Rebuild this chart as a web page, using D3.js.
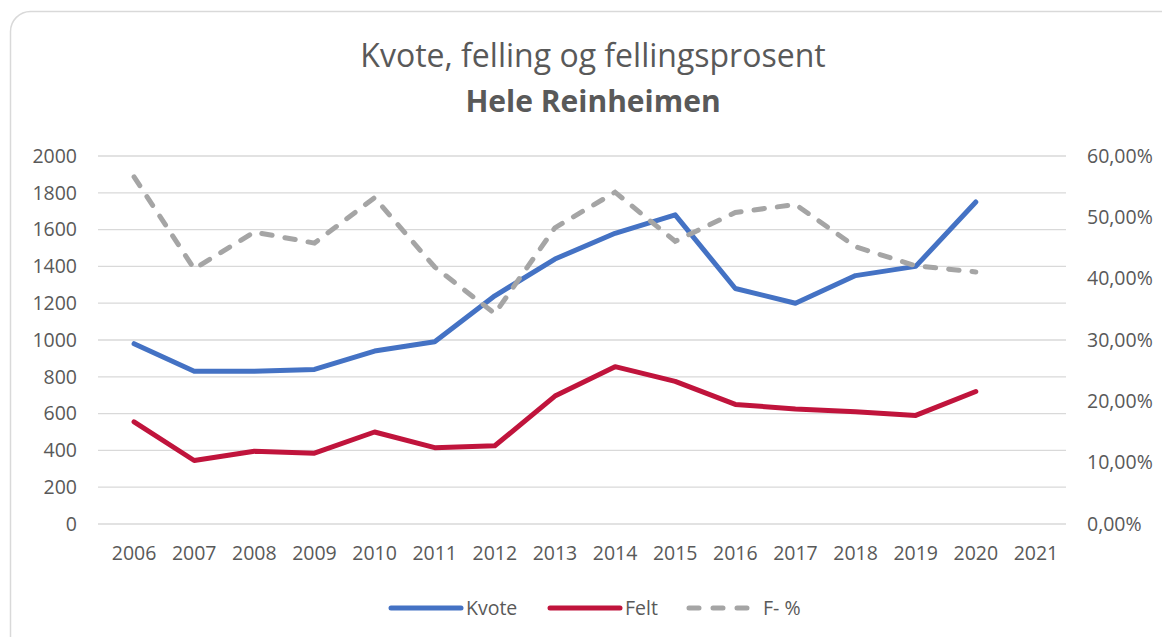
<!DOCTYPE html>
<html>
<head>
<meta charset="utf-8">
<script src="https://cdn.jsdelivr.net/npm/d3@7"></script>
<style>
  body { margin: 0; background: #fff; }
  text { font-family: "Open Sans", "Noto Sans", sans-serif; fill: #595959; }
</style>
</head>
<body>
<svg id="chart"></svg>
<script>
const years = ["2006","2007","2008","2009","2010","2011","2012","2013","2014","2015","2016","2017","2018","2019","2020","2021"];
const kvote = [980, 830, 830, 840, 940, 990, 1240, 1440, 1580, 1680, 1280, 1200, 1350, 1400, 1750];
const felt = [555, 345, 395, 385, 500, 415, 425, 695, 855, 775, 650, 625, 610, 590, 720];
const fPct = [0.566, 0.416, 0.476, 0.458, 0.532, 0.419, 0.343, 0.483, 0.541, 0.461, 0.508, 0.521, 0.452, 0.421, 0.411];
const leftTicks = [0, 200, 400, 600, 800, 1000, 1200, 1400, 1600, 1800, 2000];
const rightTicks = [0, 0.1, 0.2, 0.3, 0.4, 0.5, 0.6];

const width = 1162, height = 637;
const svg = d3.select("#chart").attr("width", width).attr("height", height);

// card
svg.append("rect")
    .attr("x", 10.5).attr("y", 11.5)
    .attr("width", 1170).attr("height", 650)
    .attr("rx", 20)
    .attr("fill", "#fff")
    .attr("stroke", "#d9d9d9")
    .attr("stroke-width", 1.5);

const plot = { left: 98, right: 1066, top: 156, bottom: 524 };

const x = d3.scaleBand().domain(years).range([104, 1066]);
const yL = d3.scaleLinear().domain([0, 2000]).range([plot.bottom, plot.top]);
const yR = d3.scaleLinear().domain([0, 0.6]).range([plot.bottom, plot.top]);

// title
svg.append("text")
    .attr("x", 593).attr("y", 67)
    .attr("text-anchor", "middle")
    .attr("font-size", "32px")
    .text("Kvote, felling og fellingsprosent");
svg.append("text")
    .attr("x", 593).attr("y", 112)
    .attr("text-anchor", "middle")
    .attr("font-size", "30px")
    .attr("font-weight", "bold")
    .text("Hele Reinheimen");

// gridlines
svg.append("g")
    .selectAll("line")
    .data(leftTicks)
    .enter().append("line")
    .attr("x1", plot.left).attr("x2", plot.right)
    .attr("y1", d => yL(d)).attr("y2", d => yL(d))
    .attr("stroke", "#d9d9d9")
    .attr("stroke-width", 1.3);

// left axis
const leftAxis = svg.append("g")
    .attr("transform", `translate(${plot.left},0)`)
    .call(d3.axisLeft(yL).tickValues(leftTicks).tickSize(0).tickPadding(21).tickFormat(d3.format("d")));
leftAxis.select(".domain").remove();
leftAxis.selectAll("text").attr("font-size", "19.5px").attr("fill", "#595959");

// right axis
const rightAxis = svg.append("g")
    .attr("transform", `translate(${plot.right},0)`)
    .call(d3.axisRight(yR).tickValues(rightTicks).tickSize(0).tickPadding(21)
        .tickFormat(d => d3.format(".2f")(d * 100).replace(".", ",") + "%"));
rightAxis.select(".domain").remove();
rightAxis.selectAll("text").attr("font-size", "19.5px").attr("fill", "#595959");

// bottom axis
const bottomAxis = svg.append("g")
    .attr("transform", `translate(0,${plot.bottom})`)
    .call(d3.axisBottom(x).tickSize(0).tickPadding(22));
bottomAxis.select(".domain").remove();
bottomAxis.selectAll("text").attr("font-size", "19.5px").attr("fill", "#595959");

const cx = i => x(years[i]) + x.bandwidth() / 2;

const lineL = d3.line().x((d, i) => cx(i)).y(d => yL(d));
const lineR = d3.line().x((d, i) => cx(i)).y(d => yR(d));

svg.append("path")
    .datum(kvote)
    .attr("d", lineL)
    .attr("fill", "none")
    .attr("stroke", "#4472c4")
    .attr("stroke-width", 5)
    .attr("stroke-linecap", "round")
    .attr("stroke-linejoin", "round");

svg.append("path")
    .datum(felt)
    .attr("d", lineL)
    .attr("fill", "none")
    .attr("stroke", "#c0143c")
    .attr("stroke-width", 5)
    .attr("stroke-linecap", "round")
    .attr("stroke-linejoin", "round");

svg.append("path")
    .datum(fPct)
    .attr("d", lineR)
    .attr("fill", "none")
    .attr("stroke", "#a5a5a5")
    .attr("stroke-width", 5)
    .attr("stroke-linecap", "round")
    .attr("stroke-dasharray", "10.5 13");

// legend
const legendItems = [
    { name: "Kvote", color: "#4472c4", dash: null, x: 391 },
    { name: "Felt", color: "#c0143c", dash: null, x: 550 },
    { name: "F- %", color: "#a5a5a5", dash: "10 14", x: 689 }
];
const legend = svg.append("g")
    .selectAll("g")
    .data(legendItems)
    .enter().append("g")
    .attr("transform", d => `translate(${d.x},608)`);
legend.append("line")
    .attr("x1", 0).attr("x2", 70)
    .attr("stroke", d => d.color)
    .attr("stroke-width", 5)
    .attr("stroke-linecap", "round")
    .attr("stroke-dasharray", d => d.dash);
legend.append("text")
    .attr("x", d => d.dash ? 74 : 75)
    .attr("y", 7)
    .attr("font-size", "19.5px")
    .text(d => d.name);
</script>
</body>
</html>
